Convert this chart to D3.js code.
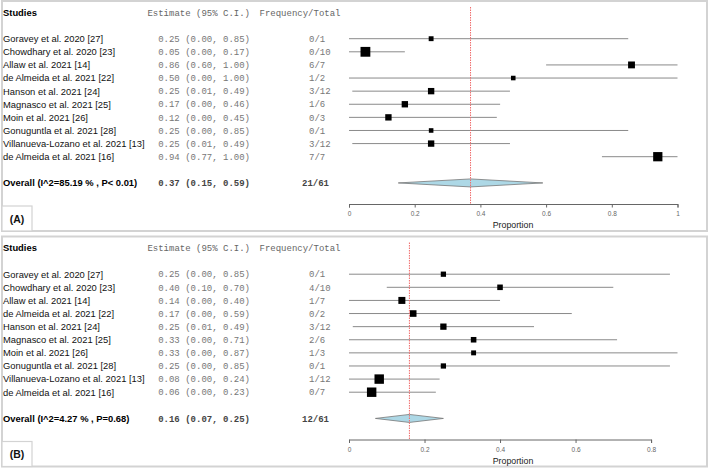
<!DOCTYPE html>
<html><head><meta charset="utf-8">
<script src="https://cdn.jsdelivr.net/npm/d3@7"></script>
<style>
html,body{margin:0;padding:0;background:#fff;}
svg{display:block;}
</style></head>
<body>
<svg id="c" width="709" height="473"></svg>
<script>
// ---------- data ----------
const studies = ["Goravey et al. 2020 [27]","Chowdhary et al. 2020 [23]","Allaw et al. 2021 [14]",
  "de Almeida et al. 2021 [22]","Hanson et al. 2021 [24]","Magnasco et al. 2021 [25]","Moin et al. 2021 [26]",
  "Gonuguntla et al. 2021 [28]","Villanueva-Lozano et al. 2021 [13]","de Almeida et al. 2021 [16]"];

const estA = [0.25,0.05,0.86,0.50,0.25,0.17,0.12,0.25,0.25,0.94];
const loA  = [0.00,0.00,0.60,0.00,0.01,0.00,0.00,0.00,0.01,0.77];
const hiA  = [0.85,0.17,1.00,1.00,0.49,0.46,0.45,0.85,0.49,1.00];
const freqA = ["0/1","0/10","6/7","1/2","3/12","1/6","0/3","0/1","3/12","7/7"];
const weightA = [5.0,20.2,9.9,4.4,8.5,8.5,8.5,4.4,8.5,18.0];
const overallA = {label:"Overall (I^2=85.19 % , P< 0.01)", est:0.37, lo:0.15, hi:0.59, freq:"21/61"};
const ticksA = [0,0.2,0.4,0.6,0.8,1];

const estB = [0.25,0.40,0.14,0.17,0.25,0.33,0.33,0.25,0.08,0.06];
const loB  = [0.00,0.10,0.00,0.00,0.01,0.00,0.00,0.00,0.00,0.00];
const hiB  = [0.85,0.70,0.40,0.59,0.49,0.71,0.87,0.85,0.24,0.23];
const freqB = ["0/1","4/10","1/7","0/2","3/12","2/6","1/3","0/1","1/12","0/7"];
const weightB = [5.8,6.5,10.3,9.2,8.3,6.5,5.1,5.8,18.7,18.7];
const overallB = {label:"Overall (I^2=4.27 % , P=0.68)", est:0.16, lo:0.07, hi:0.25, freq:"12/61"};
const ticksB = [0,0.2,0.4,0.6,0.8];

const headers = ["Studies","Estimate (95% C.I.)","Frequency/Total"];
const panelLabels = ["(A)","(B)"];

// ---------- drawing ----------
const svg = d3.select("#c");
const SANS = "'Liberation Sans', Arial, sans-serif";
const MONO = "'Liberation Mono', 'Courier New', monospace";
const fmt = d3.format(".2f");
const weightAll = weightA.concat(weightB);
const sizeScale = d3.scaleSqrt().domain([0, d3.max(weightAll)]).range([0, 9.8]);

function drawPanel(cfg){
  const g = svg.append("g");
  const top = cfg.top;
  // frame
  g.append("rect").attr("x",2).attr("y",top+1).attr("width",705).attr("height",230)
    .attr("fill","#fff").attr("stroke","#d3d3d3").attr("stroke-width",2);

  const y = d3.scaleLinear().domain([0,9]).range([top+38.7, top+156.7]);
  const x = d3.scaleLinear().domain([0, d3.max(cfg.hi)]).range([349, 677.5]);
  const axisY = top + 204;

  // header
  g.append("text").attr("x",3).attr("y",y(-2)+3.5).text(headers[0])
    .attr("font-family",SANS).attr("font-size",9.4).attr("font-weight","bold").attr("fill","#000");
  g.append("text").attr("x",250).attr("y",y(-2)+3.3).attr("text-anchor","end").text(headers[1])
    .attr("font-family",MONO).attr("font-size",9).attr("fill","#666");
  g.append("text").attr("x",259.5).attr("y",y(-2)+3.3).text(headers[2])
    .attr("font-family",MONO).attr("font-size",9).attr("fill","#666");

  // rows
  studies.forEach((s,i)=>{
    const yy = y(i);
    g.append("text").attr("x",3).attr("y",yy+3.4).text(s)
      .attr("font-family",SANS).attr("font-size",9.4).attr("fill","#111");
    g.append("text").attr("x",250).attr("y",yy+3.2).attr("text-anchor","end")
      .text(`${fmt(cfg.est[i])} (${fmt(cfg.lo[i])}, ${fmt(cfg.hi[i])})`)
      .attr("font-family",MONO).attr("font-size",9).attr("fill","#777").attr("xml:space","preserve");
    g.append("text").attr("x",309).attr("y",yy+3.2).text(cfg.freq[i])
      .attr("font-family",MONO).attr("font-size",9).attr("fill","#777");
    g.append("line").attr("x1",x(cfg.lo[i])).attr("x2",x(cfg.hi[i])).attr("y1",yy).attr("y2",yy)
      .attr("stroke","#8a8a8a").attr("stroke-width",1);
    const sz = sizeScale(cfg.w[i]);
    g.append("rect").attr("x",x(cfg.est[i])-sz/2).attr("y",yy-sz/2).attr("width",sz).attr("height",sz)
      .attr("fill","#000");
  });

  // overall
  const o = cfg.overall, yo = y(11);
  g.append("text").attr("x",3).attr("y",yo+3.4).text(o.label)
    .attr("font-family",SANS).attr("font-size",9.4).attr("font-weight","bold").attr("fill","#000");
  g.append("text").attr("x",250).attr("y",yo+3.2).attr("text-anchor","end")
    .text(`${fmt(o.est)} (${fmt(o.lo)}, ${fmt(o.hi)})`)
    .attr("font-family",MONO).attr("font-size",9).attr("font-weight","bold").attr("fill","#444");
  g.append("text").attr("x",302).attr("y",yo+3.2).text(o.freq)
    .attr("font-family",MONO).attr("font-size",9).attr("font-weight","bold").attr("fill","#444");
  const dh = 4;
  g.append("path")
    .attr("d",`M${x(o.lo)},${yo} L${x(o.est)},${yo-dh} L${x(o.hi)},${yo} L${x(o.est)},${yo+dh} Z`)
    .attr("fill","#add8e6").attr("stroke","#777").attr("stroke-width",0.8);

  // reference line
  g.append("line").attr("x1",x(o.est)).attr("x2",x(o.est)).attr("y1",top+7).attr("y2",axisY)
    .attr("stroke","#f06a6a").attr("stroke-width",1).attr("stroke-dasharray","1.5,1");

  // axis
  const tv = cfg.ticks;
  const axScale = x.copy().domain([tv[0], tv[tv.length-1]]).range([x(tv[0]), x(tv[tv.length-1])]);
  const ax = g.append("g").attr("transform",`translate(0,${axisY})`)
    .call(d3.axisBottom(axScale).tickValues(tv).tickSizeInner(3.5).tickSizeOuter(3.5).tickPadding(4)
      .tickFormat(d3.format("~g")));
  ax.select(".domain").attr("stroke","#666");
  ax.selectAll(".tick line").attr("stroke","#666");
  ax.selectAll(".tick text").attr("font-family",SANS).attr("font-size",6.5).attr("fill","#666");
  g.append("text").attr("x",513).attr("y",axisY+24).attr("text-anchor","middle").text("Proportion")
    .attr("font-family",SANS).attr("font-size",8.8).attr("fill","#222");

  // panel label box
  g.append("rect").attr("x",2).attr("y",top+206).attr("width",30).attr("height",25)
    .attr("fill","#fff").attr("stroke","#d3d3d3").attr("stroke-width",1.2);
  g.append("text").attr("x",17).attr("y",top+222.5).attr("text-anchor","middle").text(cfg.label)
    .attr("font-family",SANS).attr("font-size",10.5).attr("font-weight","bold").attr("fill","#111");
}

drawPanel({top:0, est:estA, lo:loA, hi:hiA, freq:freqA, w:weightA, overall:overallA, ticks:ticksA, label:panelLabels[0]});
drawPanel({top:235.5, est:estB, lo:loB, hi:hiB, freq:freqB, w:weightB, overall:overallB, ticks:ticksB, label:panelLabels[1]});
</script>
</body></html>
